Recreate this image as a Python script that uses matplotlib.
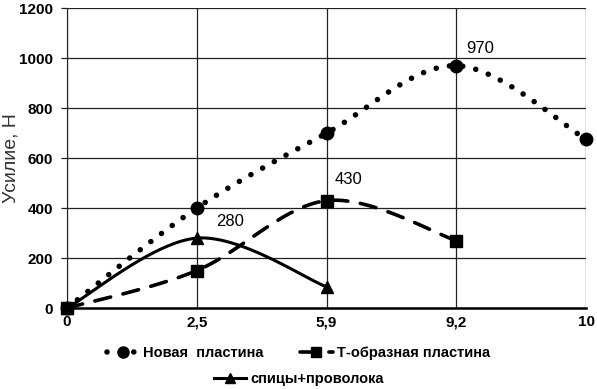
import numpy as np
import matplotlib
matplotlib.use("Agg")
import matplotlib.pyplot as plt
from matplotlib.lines import Line2D

plt.rcParams['font.family'] = ['Liberation Sans', 'DejaVu Sans']

x_labels = ['0', '2,5', '5,9', '9,2', '10']
new_plate = [0, 400, 700, 970, 675]
t_plate = [0, 150, 430, 270]
wires = [0, 280, 85]
labels = ['Новая  пластина', 'Т-образная пластина', 'спицы+проволока']
peaks = [(3, 970), (2, 430), (1, 280)]


def smooth(xs, ys, n=30):
    # excel-like smoothed line (catmull-rom -> bezier)
    p = np.column_stack([xs, ys]).astype(float)
    out = [p[0]]
    for i in range(len(p) - 1):
        p0 = p[i - 1] if i > 0 else p[i]
        p1, p2 = p[i], p[i + 1]
        p3 = p[i + 2] if i + 2 < len(p) else p[i + 1]
        c1 = p1 + (p2 - p0) / 6
        c2 = p2 - (p3 - p1) / 6
        t = np.linspace(0, 1, n)[1:, None]
        seg = (1 - t) ** 3 * p1 + 3 * (1 - t) ** 2 * t * c1 + 3 * (1 - t) * t ** 2 * c2 + t ** 3 * p2
        out.extend(seg)
    out = np.array(out)
    return out[:, 0], out[:, 1]


fig = plt.figure(figsize=(5.97, 3.89), dpi=100)
ax = fig.add_axes([0.112, 0.208, 0.87, 0.771])

styles = [
    (new_plate, (0, (0.01, 2.4)), 'o', 4.0, 9),
    (t_plate, (0, (4.5, 3.5)), 's', 2.6, 8),
    (wires, '-', '^', 2.2, 8.5),
]
for ys, ls, mk, lw, ms in styles:
    xs = np.arange(len(ys))
    sx, sy = smooth(xs, ys)
    ax.plot(sx, sy, color='black', linestyle=ls, linewidth=lw, zorder=3,
            dash_capstyle='round', solid_capstyle='round', clip_on=False)
    ax.plot(xs, ys, linestyle='none', marker=mk, color='black', markersize=ms, zorder=4, clip_on=False)

ax.annotate('970', (peaks[0][0], peaks[0][1]), xytext=(7, 9), textcoords='offset points', fontsize=12)
ax.annotate('430', (peaks[1][0], peaks[1][1]), xytext=(6, 12), textcoords='offset points', fontsize=12)
ax.annotate('280', (peaks[2][0], peaks[2][1]), xytext=(14, 9), textcoords='offset points', fontsize=12)

ax.set_xlim(0, len(x_labels) - 1)
ax.set_ylim(0, 1200)
ax.set_xticks(range(len(x_labels)))
ax.set_xticklabels(x_labels, fontweight='bold', fontsize=11)
ax.set_yticks(range(0, 1201, 200))
ax.set_yticklabels([str(v) for v in range(0, 1201, 200)], fontweight='bold', fontsize=11)
ax.tick_params(axis='x', length=0, pad=5)
ax.tick_params(axis='y', length=4, width=0.9, pad=6, color='#222222')
ax.grid(True, color='#222222', linewidth=0.9)
ax.set_axisbelow(True)
for s in ['top', 'right']:
    ax.spines[s].set_visible(False)
ax.spines['left'].set_color('#222222')
ax.spines['bottom'].set_linewidth(1.8)
ax.set_ylabel('Усилие, Н', fontsize=14, color='#333333', va='center')
ax.yaxis.set_label_coords(-0.107, 0.5)

h = [Line2D([], [], color='black', linestyle=s[1], linewidth=s[3], marker=s[2], markersize=s[4] - 1,
            dash_capstyle='round') for s in styles]
leg1 = fig.legend(h[:2], labels[:2], loc='center', bbox_to_anchor=(0.5, 0.092), ncol=2, frameon=False,
                  prop={'weight': 'bold', 'size': 10.5}, handlelength=2.2, columnspacing=2.5, handletextpad=0.3)
fig.legend(h[2:], labels[2:], loc='center', bbox_to_anchor=(0.5, 0.025), frameon=False,
           prop={'weight': 'bold', 'size': 10.5}, handlelength=2.2, handletextpad=0.3)

fig.savefig('out.png', dpi=100)
